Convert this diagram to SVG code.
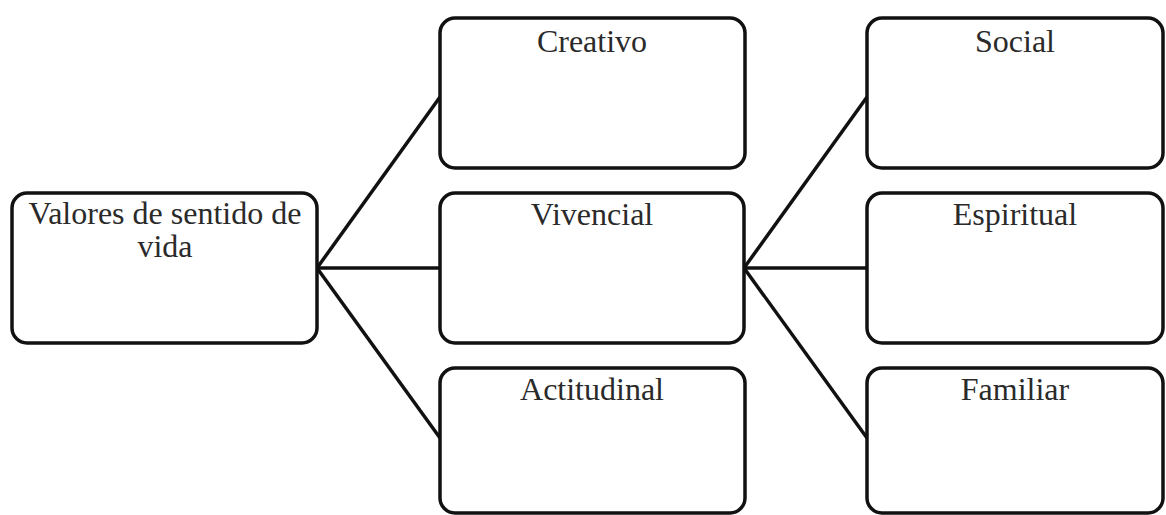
<svg xmlns="http://www.w3.org/2000/svg" width="1166" height="515" viewBox="0 0 1166 515">
<style>
.box{fill:#fff;stroke:#111;stroke-width:3.5}
.lbl{font-family:"Liberation Serif","Times New Roman",serif;font-size:32px;fill:#2a2a2a;text-anchor:middle}
.conn{stroke:#111;stroke-width:3.5;fill:none}
</style>
<rect width="1166" height="515" fill="#fff"/>
<g id="connectors">
<line class="conn" x1="317" y1="268" x2="440" y2="97"/>
<line class="conn" x1="317" y1="268" x2="440" y2="268"/>
<line class="conn" x1="317" y1="268" x2="440" y2="438"/>
<line class="conn" x1="744" y1="268" x2="867" y2="97"/>
<line class="conn" x1="744" y1="268" x2="867" y2="268"/>
<line class="conn" x1="744" y1="268" x2="867" y2="438"/>
</g>
<g id="valores">
<rect class="box" x="12" y="193" width="305" height="150" rx="15"/>
<text class="lbl" x="165" y="224">Valores de sentido de</text>
<text class="lbl" x="165" y="257">vida</text>
</g>
<g id="creativo">
<rect class="box" x="440" y="18" width="305" height="150" rx="15"/>
<text class="lbl" x="592" y="52">Creativo</text>
</g>
<g id="vivencial">
<rect class="box" x="440" y="193" width="304" height="150" rx="15"/>
<text class="lbl" x="592" y="225">Vivencial</text>
</g>
<g id="actitudinal">
<rect class="box" x="440" y="368" width="305" height="145" rx="15"/>
<text class="lbl" x="592" y="400">Actitudinal</text>
</g>
<g id="social">
<rect class="box" x="867" y="18" width="296" height="150" rx="15"/>
<text class="lbl" x="1015" y="52">Social</text>
</g>
<g id="espiritual">
<rect class="box" x="867" y="193" width="296" height="150" rx="15"/>
<text class="lbl" x="1015" y="225">Espiritual</text>
</g>
<g id="familiar">
<rect class="box" x="867" y="368" width="296" height="145" rx="15"/>
<text class="lbl" x="1015" y="400">Familiar</text>
</g>
</svg>
